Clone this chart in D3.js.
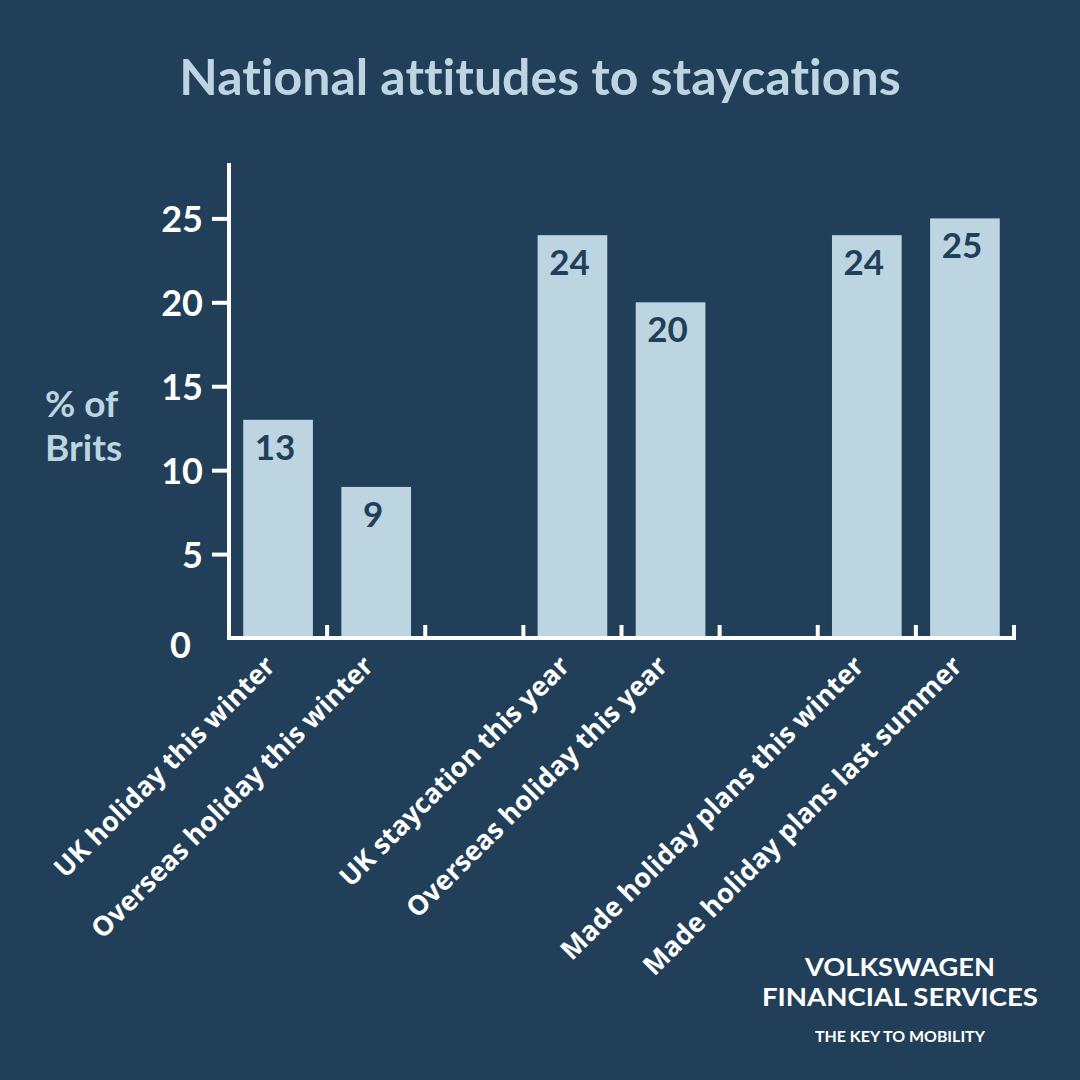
<!DOCTYPE html>
<html><head><meta charset="utf-8">
<script src="https://cdn.jsdelivr.net/npm/d3@7"></script>
<style>
html,body{margin:0;padding:0;background:#213f58;}
svg{display:block;}
text{font-variant-ligatures:none;}
</style></head>
<body>
<svg id="chart" width="1080" height="1080"></svg>
<script>
const categories = ["UK holiday this winter","Overseas holiday this winter","","UK staycation this year","Overseas holiday this year","","Made holiday plans this winter","Made holiday plans last summer"];
const values = [13, 9, null, 24, 20, null, 24, 25];
const yTicks = [0, 5, 10, 15, 20, 25];
const title = "National attitudes to staycations";
const yLabel = ["% of", "Brits"];
const logoLines = ["VOLKSWAGEN", "FINANCIAL SERVICES", "THE KEY TO MOBILITY"];

const BG = "#213f58", LIGHT = "#bcd5e0", FONT = "Lato, 'Open Sans', sans-serif", FONT2 = "'Open Sans', Lato, sans-serif";
const svg = d3.select("#chart");
svg.append("rect").attr("width",1080).attr("height",1080).attr("fill",BG);

const x = d3.scaleBand().domain(d3.range(categories.length)).range([229, 1014]).paddingInner(0.29).paddingOuter(0.145);
const y = d3.scaleLinear().domain([0, 28.3]).range([638, 163]);

svg.append("text").attr("x",540).attr("y",95).attr("text-anchor","middle")
  .attr("font-family",FONT).attr("font-weight",700).attr("font-size",50).attr("fill",LIGHT).text(title);

// bars
const data = values.map((v,i)=>({v,i})).filter(d=>d.v!=null);
svg.selectAll("rect.bar").data(data).enter().append("rect").attr("class","bar")
  .attr("x",d=>x(d.i)).attr("width",x.bandwidth())
  .attr("y",d=>y(d.v)).attr("height",d=>y(0)-y(d.v)).attr("fill",LIGHT);
svg.selectAll("text.val").data(data).enter().append("text").attr("class","val")
  .attr("x",d=>x(d.i)+x.bandwidth()/2-3).attr("y",d=>y(d.v)+40)
  .attr("text-anchor","middle").attr("font-family",FONT).attr("font-weight",700)
  .attr("font-size",35).attr("fill",BG).text(d=>d.v);

// y axis
const yAxis = svg.append("g").attr("transform","translate(229,0)")
  .call(d3.axisLeft(y).tickValues(yTicks).tickSize(17).tickPadding(9));
yAxis.select(".domain").remove();
yAxis.selectAll(".tick line").attr("stroke","#fff").attr("stroke-width",4);
yAxis.selectAll(".tick text").attr("fill","#fff").attr("font-family",FONT).attr("font-weight",700).attr("font-size",36).attr("dy","0.36em");
yAxis.selectAll(".tick").filter(d=>d===0).select("line").remove();
yAxis.selectAll(".tick").filter(d=>d===0).select("text").attr("x",-38).attr("dy","0.55em");
svg.append("line").attr("x1",229).attr("x2",229).attr("y1",163).attr("y2",640).attr("stroke","#fff").attr("stroke-width",4);

// x axis
svg.append("line").attr("x1",227).attr("x2",1016).attr("y1",638).attr("y2",638).attr("stroke","#fff").attr("stroke-width",4);
const step = x.step();
const boundaries = d3.range(1, categories.length+1).map(i=>x(0)-x.paddingOuter()*step + i*step);
svg.selectAll("line.xt").data(boundaries).enter().append("line")
  .attr("x1",d=>d).attr("x2",d=>d).attr("y1",625).attr("y2",638).attr("stroke","#fff").attr("stroke-width",4);

// category labels
svg.selectAll("text.cat").data(categories.map((c,i)=>({c,i})).filter(d=>d.c)).enter().append("text")
  .attr("class","cat")
  .attr("transform",d=>`translate(${x(d.i)+x.bandwidth()/2-8},${661}) rotate(-45)`)
  .attr("text-anchor","end").attr("font-family",FONT2).attr("font-weight",700)
  .attr("font-size",27).attr("fill","#fff").attr("dy","0.35em").text(d=>d.c);

// y label
svg.selectAll("text.yl").data(yLabel).enter().append("text").attr("class","yl")
  .attr("x",45).attr("y",(d,i)=>417+i*44).attr("font-family",FONT).attr("font-weight",700)
  .attr("font-size",37).attr("fill",LIGHT).text(d=>d);

// logo
const logoY = [976, 1005.5, 1042], logoSize = [24.5, 24.5, 16], logoW = [190, 276, 170];
svg.selectAll("text.logo").data(logoLines).enter().append("text").attr("class","logo")
  .attr("x",(d,i)=>900-logoW[i]/2).attr("y",(d,i)=>logoY[i])
  .attr("textLength",(d,i)=>logoW[i]).attr("lengthAdjust","spacingAndGlyphs")
  .attr("font-family",FONT).attr("font-weight",700).attr("font-size",(d,i)=>logoSize[i])
  .attr("fill","#fff").text(d=>d);
</script>
</body></html>
